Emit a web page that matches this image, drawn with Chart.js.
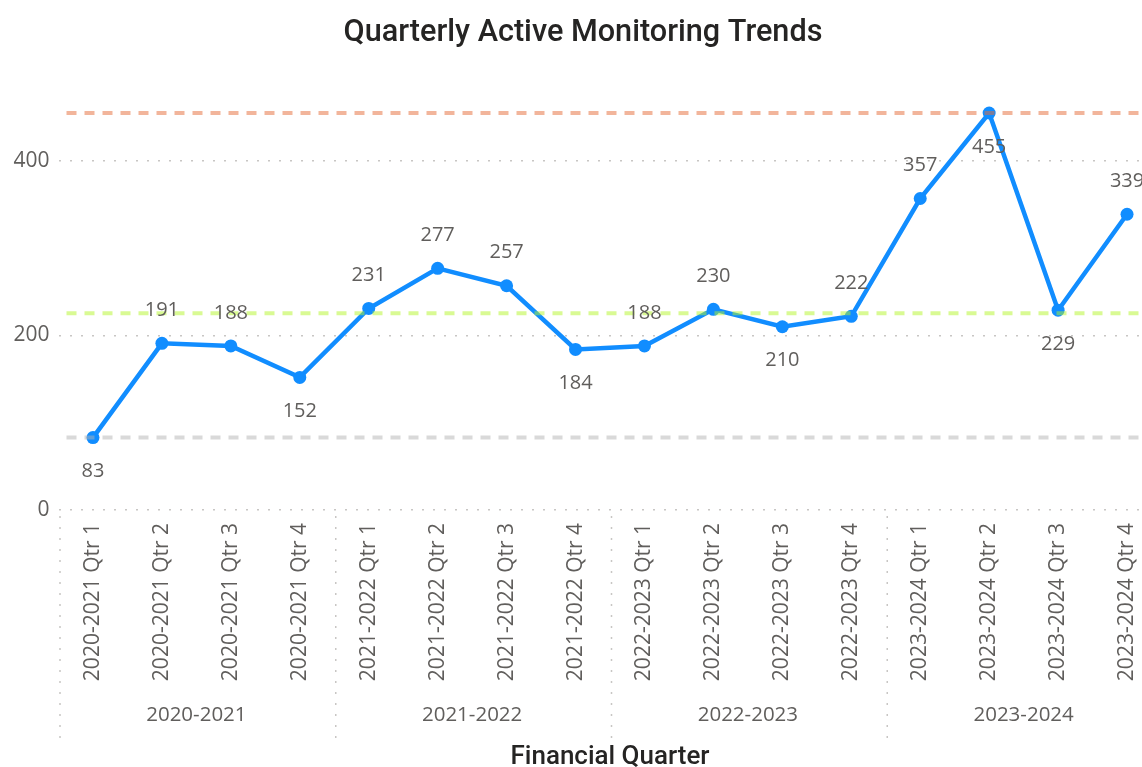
<!DOCTYPE html>
<html><head><meta charset="utf-8">
<script src="https://cdn.jsdelivr.net/npm/chart.js@4.4.0/dist/chart.umd.min.js"></script>
<style>
html,body{margin:0;padding:0;overflow:hidden;background:#fff}
#wrap{width:1142px;height:767px;overflow:hidden;position:relative}
canvas{display:block}
</style>
</head><body>
<div id="wrap"><canvas id="c" width="1200" height="767" style="width:1200px;height:767px"></canvas></div>
<script>
// ---- data ----
const quarters = [
  '2020-2021 Qtr 1','2020-2021 Qtr 2','2020-2021 Qtr 3','2020-2021 Qtr 4',
  '2021-2022 Qtr 1','2021-2022 Qtr 2','2021-2022 Qtr 3','2021-2022 Qtr 4',
  '2022-2023 Qtr 1','2022-2023 Qtr 2','2022-2023 Qtr 3','2022-2023 Qtr 4',
  '2023-2024 Qtr 1','2023-2024 Qtr 2','2023-2024 Qtr 3','2023-2024 Qtr 4'
];
const years = ['2020-2021','2021-2022','2022-2023','2023-2024'];
const quartersPerYear = [4,4,4,4];
const values = [83,191,188,152,231,277,257,184,188,230,210,222,357,455,229,339];
const yTicks = [0,200,400];
const labelSide = ['below','above','above','below','above','above','above','below',
                   'above','above','below','above','above','below','below','above'];

const titleText = 'Quarterly Active Monitoring Trends';
const xTitleText = 'Financial Quarter';

// reference lines: min, median, max of the series
const sorted = values.slice().sort((a,b)=>a-b);
const median = (sorted[7] + sorted[8]) / 2;
const refLines = [
  {value: Math.max(...values), color: 'rgba(230,108,55,0.5)'},
  {value: median, color: 'rgba(180,245,40,0.5)'},
  {value: Math.min(...values), color: 'rgba(180,180,180,0.5)'}
];

const TXT = '#605E5C';
const FONT = '"Segoe UI", "Open Sans", sans-serif';
const TFONT = 'Roboto, "DejaVu Sans", sans-serif';

const decorations = {
  id: 'decorations',
  afterDatasetsDraw(chart) {
    const ctx = chart.ctx, ca = chart.chartArea, ys = chart.scales.y;
    // reference lines
    ctx.save();
    ctx.lineWidth = 4;
    ctx.setLineDash([10, 8]);
    refLines.forEach(r => {
      const y = ys.getPixelForValue(r.value);
      ctx.strokeStyle = r.color;
      ctx.beginPath();
      ctx.moveTo(ca.left + 8, y);
      ctx.lineTo(chart.width, y);
      ctx.stroke();
    });
    ctx.restore();
    // data labels
    const meta = chart.getDatasetMeta(0);
    ctx.save();
    ctx.font = '20px ' + FONT;
    ctx.fillStyle = TXT;
    ctx.textAlign = 'center';
    ctx.textBaseline = 'middle';
    meta.data.forEach((pt, i) => {
      const dy = labelSide[i] === 'above' ? -33 : 34;
      ctx.fillText(String(values[i]), pt.x, pt.y + dy);
    });
    ctx.restore();
  },
  afterDraw(chart) {
    const ctx = chart.ctx, ca = chart.chartArea, xs = chart.scales.x;
    const half = (xs.getPixelForTick(1) - xs.getPixelForTick(0)) / 2;
    // group separators and labels
    ctx.save();
    ctx.strokeStyle = '#C8C6C4';
    ctx.lineWidth = 1.5;
    ctx.setLineDash([2, 9]);
    let idx = 0;
    const seps = [];
    years.forEach((yr, g) => {
      const first = idx, last = idx + quartersPerYear[g] - 1;
      seps.push(xs.getPixelForTick(first) - half);
      const cx = (xs.getPixelForTick(first) + xs.getPixelForTick(last)) / 2;
      ctx.save();
      ctx.setLineDash([]);
      ctx.font = '20.5px ' + FONT;
      ctx.fillStyle = TXT;
      ctx.textAlign = 'center';
      ctx.textBaseline = 'middle';
      ctx.fillText(yr, cx, 715);
      ctx.restore();
      idx = last + 1;
    });
    seps.forEach(x => {
      ctx.beginPath();
      ctx.moveTo(x + 1.5, ca.bottom + 6);
      ctx.lineTo(x + 1.5, 740);
      ctx.stroke();
    });
    ctx.restore();
    // titles
    ctx.save();
    ctx.fillStyle = '#252423';
    ctx.textAlign = 'center';
    ctx.textBaseline = 'alphabetic';
    let fs = 27;
    ctx.font = '500 ' + fs + 'px ' + TFONT;
    fs = fs * 479 / ctx.measureText(titleText).width;
    ctx.font = '500 ' + fs.toFixed(2) + 'px ' + TFONT;
    ctx.fillText(titleText, 583, 41);
    let fs2 = 24;
    ctx.font = '500 ' + fs2 + 'px ' + TFONT;
    fs2 = fs2 * 199 / ctx.measureText(xTitleText).width;
    ctx.font = '500 ' + fs2.toFixed(2) + 'px ' + TFONT;
    ctx.fillText(xTitleText, (ca.left + ca.right) / 2, 764);
    ctx.restore();
  }
};

new Chart(document.getElementById('c'), {
  type: 'line',
  data: {
    labels: quarters,
    datasets: [{
      data: values,
      borderColor: '#118DFF',
      backgroundColor: '#118DFF',
      borderWidth: 4.5,
      pointRadius: 6.5,
      pointHoverRadius: 6.5,
      pointBackgroundColor: '#118DFF',
      pointBorderWidth: 0,
      tension: 0,
      clip: false
    }]
  },
  options: {
    responsive: false,
    animation: false,
    devicePixelRatio: 1,
    layout: { padding: { top: 73.75, right: 38.5, bottom: 0, left: 0 } },
    plugins: { legend: { display: false }, tooltip: { enabled: false }, title: { display: false } },
    scales: {
      x: {
        type: 'category',
        offset: true,
        grid: { display: false, drawTicks: false },
        border: { display: false },
        ticks: {
          autoSkip: false, minRotation: 90, maxRotation: 90, padding: 13,
          color: TXT, font: { family: FONT, size: 21 }
        },
        afterFit(s) { s.height = 257; }
      },
      y: {
        min: 0, max: 500,
        afterBuildTicks(s) { s.ticks = yTicks.map(v => ({ value: v })); },
        grid: { color: '#C8C6C4', lineWidth: 1.5, drawTicks: false },
        border: { display: false, dash: [2, 9] },
        ticks: { padding: 9, color: TXT, font: { family: FONT, size: 21 } },
        afterFit(s) { s.width = 58.5; }
      }
    }
  },
  plugins: [decorations]
});
</script>
</body></html>
